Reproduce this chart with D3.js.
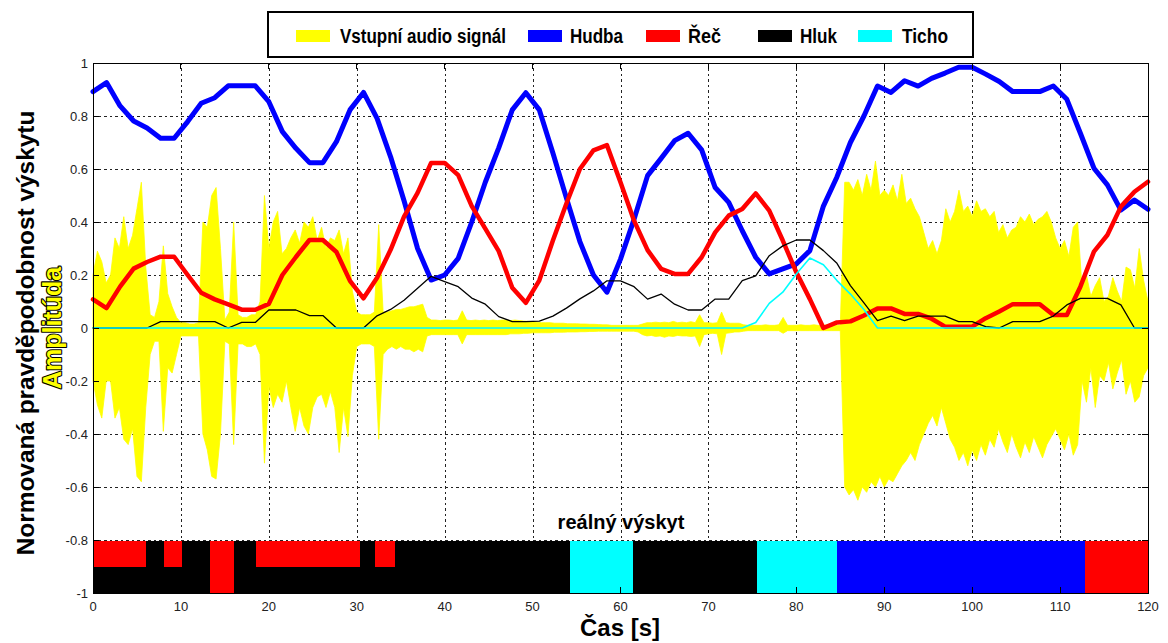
<!DOCTYPE html>
<html>
<head>
<meta charset="utf-8">
<script src="https://cdn.jsdelivr.net/npm/d3@7"></script>
<style>
  html, body { margin: 0; padding: 0; background: #fff; }
  svg { display: block; font-family: "Liberation Sans", Arial, sans-serif; }
</style>
</head>
<body>
<svg id="chart" width="1168" height="643"></svg>
<script>
// ---- classes ----
const classNames = ["Hudba", "Řeč", "Hluk", "Ticho"];
const classColors = { "Hudba": "#0000ff", "Řeč": "#ff0000", "Hluk": "#000000", "Ticho": "#00ffff" };
const audioLabel = "Vstupní audio signál";
const audioColor = "#ffff00";

// ---- axis ticks ----
const xTicks = [0, 10, 20, 30, 40, 50, 60, 70, 80, 90, 100, 110, 120];
const xTickLabels = ["0", "10", "20", "30", "40", "50", "60", "70", "80", "90", "100", "110", "120"];
const yTicks = [1, 0.8, 0.6, 0.4, 0.2, 0, -0.2, -0.4, -0.6, -0.8, -1];
const yTickLabels = ["1", "0.8", "0.6", "0.4", "0.2", "0", "-0.2", "-0.4", "-0.6", "-0.8", "-1"];

// ---- analysis frames (s) ----
const frameTimes = [
  0, 1.54, 3.08, 4.62, 6.15, 7.69, 9.23, 10.77, 12.31, 13.85,
  15.38, 16.92, 18.46, 20.00, 21.54, 23.08, 24.62, 26.15, 27.69, 29.23,
  30.77, 32.31, 33.85, 35.38, 36.92, 38.46, 40.00, 41.54, 43.08, 44.62,
  46.15, 47.69, 49.23, 50.77, 52.31, 53.85, 55.38, 56.92, 58.46, 60.00,
  61.54, 63.08, 64.62, 66.15, 67.69, 69.23, 70.77, 72.31, 73.85, 75.38,
  76.92, 78.46, 80.00, 81.54, 83.08, 84.62, 86.15, 87.69, 89.23, 90.77,
  92.31, 93.85, 95.38, 96.92, 98.46, 100.00, 101.54, 103.08, 104.62, 106.15,
  107.69, 109.23, 110.77, 112.31, 113.85, 115.38, 116.92, 118.46, 120.00
];

// ---- normalised class probabilities per frame ----
const hudba = [
  0.892, 0.926, 0.838, 0.781, 0.755, 0.716, 0.716, 0.779, 0.848, 0.869,
  0.914, 0.914, 0.914, 0.854, 0.741, 0.678, 0.624, 0.624, 0.703, 0.823,
  0.889, 0.791, 0.646, 0.48, 0.30, 0.181, 0.20, 0.263, 0.40, 0.55,
  0.68, 0.823, 0.888, 0.823, 0.66, 0.49, 0.326, 0.20, 0.135, 0.26,
  0.41, 0.575, 0.64, 0.707, 0.735, 0.672, 0.53, 0.474, 0.367, 0.267,
  0.204, 0.223, 0.242, 0.292, 0.46, 0.57, 0.70, 0.80, 0.913, 0.889,
  0.933, 0.913, 0.942, 0.962, 0.984, 0.984, 0.958, 0.93, 0.892, 0.892,
  0.892, 0.913, 0.863, 0.735, 0.603, 0.54, 0.445, 0.483, 0.448
];
const rec = [
  0.108, 0.075, 0.156, 0.224, 0.249, 0.269, 0.269, 0.20, 0.133, 0.108,
  0.089, 0.069, 0.069, 0.091, 0.20, 0.268, 0.332, 0.332, 0.287, 0.178,
  0.112, 0.19, 0.295, 0.42, 0.51, 0.623, 0.623, 0.577, 0.46, 0.375,
  0.29, 0.152, 0.095, 0.18, 0.33, 0.47, 0.60, 0.67, 0.69, 0.55,
  0.405, 0.294, 0.223, 0.204, 0.204, 0.267, 0.361, 0.424, 0.449, 0.508,
  0.443, 0.33, 0.21, 0.109, 0.0, 0.021, 0.025, 0.047, 0.074, 0.074,
  0.053, 0.053, 0.035, 0.005, 0.005, 0.005, 0.037, 0.062, 0.09, 0.09,
  0.09, 0.049, 0.049, 0.156, 0.288, 0.351, 0.458, 0.514, 0.552
];
const hluk = [
  0, 0, 0, 0, 0, 0.024, 0.024, 0.024, 0.024, 0.024,
  0, 0.021, 0.021, 0.068, 0.068, 0.068, 0.047, 0.047, 0, 0,
  0, 0.046, 0.07, 0.105, 0.15, 0.195, 0.175, 0.156, 0.113, 0.09,
  0.043, 0.024, 0.024, 0.026, 0.045, 0.075, 0.11, 0.14, 0.178, 0.178,
  0.156, 0.109, 0.128, 0.09, 0.068, 0.068, 0.109, 0.109, 0.179, 0.197,
  0.273, 0.31, 0.332, 0.332, 0.292, 0.244, 0.16, 0.095, 0.028, 0.045,
  0.028, 0.045, 0.045, 0.045, 0.024, 0.024, 0.005, 0, 0.024, 0.024,
  0.024, 0.045, 0.087, 0.112, 0.112, 0.112, 0.087, 0, 0
];
const ticho = [
  0, 0, 0, 0, 0, 0, 0, 0, 0, 0,
  0, 0, 0, 0, 0, 0, 0, 0, 0, 0,
  0, 0, 0, 0, 0, 0, 0, 0, 0, 0,
  0, 0, 0, 0, 0, 0, 0, 0, 0, 0,
  0, 0, 0, 0, 0, 0, 0, 0, 0, 0.021,
  0.093, 0.135, 0.204, 0.264, 0.239, 0.179, 0.128, 0.07, 0, 0,
  0, 0, 0, 0, 0, 0, 0, 0, 0, 0,
  0, 0, 0, 0, 0, 0, 0, 0, 0
];

// ---- input audio signal: peak envelope per 0.5 s ----
const audioStep = 0.5;
const audioMax = [
  0.20, 0.29, 0.25, 0.17, 0.20, 0.34, 0.30, 0.42, 0.30, 0.35,
  0.45, 0.55, 0.23, 0.05, 0.04, 0.10, 0.31, 0.13, 0.08, 0.04,
  0.02, 0.02, 0.015, 0.015, 0.02, 0.40, 0.38, 0.50, 0.53, 0.30,
  0.03, 0.06, 0.40, 0.05, 0.04, 0.04, 0.05, 0.05, 0.10, 0.50,
  0.30, 0.40, 0.44, 0.28, 0.30, 0.34, 0.37, 0.32, 0.40, 0.38,
  0.42, 0.33, 0.38, 0.30, 0.34, 0.33, 0.37, 0.28, 0.34, 0.14,
  0.06, 0.05, 0.05, 0.05, 0.06, 0.39, 0.06, 0.06, 0.065, 0.07,
  0.07, 0.075, 0.08, 0.08, 0.085, 0.09, 0.04, 0.03, 0.03, 0.028,
  0.03, 0.03, 0.028, 0.03, 0.065, 0.03, 0.028, 0.03, 0.028, 0.03,
  0.028, 0.03, 0.028, 0.03, 0.03, 0.028, 0.03, 0.028, 0.026, 0.025,
  0.024, 0.022, 0.02, 0.02, 0.02, 0.018, 0.018, 0.018, 0.016, 0.016,
  0.016, 0.015, 0.015, 0.014, 0.014, 0.013, 0.012, 0.012, 0.01, 0.01,
  0.01, 0.01, 0.01, 0.01, 0.01, 0.015, 0.02, 0.02, 0.022, 0.02,
  0.022, 0.02, 0.025, 0.02, 0.022, 0.02, 0.024, 0.02, 0.05, 0.02,
  0.02, 0.018, 0.02, 0.06, 0.02, 0.018, 0.018, 0.018, 0.012, 0.01,
  0.01, 0.01, 0.01, 0.012, 0.01, 0.01, 0.012, 0.04, 0.01, 0.01,
  0.01, 0.012, 0.01, 0.01, 0.012, 0.01, 0.01, 0.012, 0.01, 0.01,
  0.01, 0.55, 0.55, 0.52, 0.56, 0.50, 0.58, 0.52, 0.63, 0.50,
  0.52, 0.50, 0.54, 0.48, 0.58, 0.47, 0.49, 0.45, 0.42, 0.36,
  0.30, 0.33, 0.28, 0.33, 0.45, 0.40, 0.44, 0.52, 0.44, 0.46,
  0.42, 0.48, 0.44, 0.45, 0.42, 0.44, 0.36, 0.39, 0.34, 0.37,
  0.38, 0.42, 0.40, 0.43, 0.39, 0.41, 0.42, 0.44, 0.40, 0.34,
  0.30, 0.33, 0.27, 0.38, 0.40, 0.15, 0.20, 0.12, 0.16, 0.19,
  0.10, 0.12, 0.19, 0.14, 0.10, 0.23, 0.22, 0.15, 0.30, 0.18,
  0.10
];
const audioMin = [
  -0.20, -0.29, -0.34, -0.20, -0.20, -0.34, -0.30, -0.42, -0.44, -0.38,
  -0.56, -0.58, -0.30, -0.10, -0.05, -0.05, -0.39, -0.15, -0.17, -0.10,
  -0.03, -0.03, -0.03, -0.03, -0.03, -0.40, -0.46, -0.56, -0.57, -0.40,
  -0.05, -0.06, -0.44, -0.06, -0.06, -0.07, -0.07, -0.06, -0.10, -0.51,
  -0.22, -0.30, -0.25, -0.28, -0.20, -0.30, -0.39, -0.30, -0.37, -0.40,
  -0.30, -0.26, -0.25, -0.30, -0.24, -0.30, -0.47, -0.30, -0.41, -0.18,
  -0.07, -0.06, -0.06, -0.06, -0.07, -0.42, -0.10, -0.08, -0.07, -0.08,
  -0.07, -0.08, -0.08, -0.09, -0.08, -0.09, -0.03, -0.025, -0.025, -0.025,
  -0.025, -0.025, -0.025, -0.025, -0.06, -0.025, -0.025, -0.025, -0.025, -0.025,
  -0.025, -0.025, -0.025, -0.025, -0.025, -0.022, -0.022, -0.022, -0.02, -0.02,
  -0.018, -0.018, -0.018, -0.018, -0.018, -0.016, -0.016, -0.016, -0.015, -0.015,
  -0.015, -0.014, -0.014, -0.013, -0.013, -0.012, -0.012, -0.012, -0.012, -0.012,
  -0.012, -0.012, -0.012, -0.012, -0.015, -0.025, -0.03, -0.028, -0.032, -0.03,
  -0.035, -0.03, -0.032, -0.028, -0.03, -0.03, -0.032, -0.03, -0.07, -0.025,
  -0.022, -0.02, -0.022, -0.10, -0.02, -0.018, -0.015, -0.015, -0.012, -0.01,
  -0.01, -0.01, -0.01, -0.01, -0.01, -0.01, -0.01, -0.02, -0.01, -0.01,
  -0.01, -0.01, -0.01, -0.01, -0.01, -0.01, -0.01, -0.01, -0.01, -0.01,
  -0.01, -0.60, -0.63, -0.61, -0.65, -0.60, -0.62, -0.58, -0.60, -0.56,
  -0.60, -0.57, -0.58, -0.55, -0.52, -0.50, -0.47, -0.50, -0.44, -0.40,
  -0.36, -0.33, -0.37, -0.30, -0.36, -0.42, -0.45, -0.50, -0.47, -0.52,
  -0.46, -0.50, -0.44, -0.48, -0.42, -0.45, -0.38, -0.43, -0.47, -0.40,
  -0.45, -0.49, -0.43, -0.47, -0.41, -0.45, -0.49, -0.44, -0.41, -0.38,
  -0.42, -0.46, -0.40, -0.48, -0.44, -0.20, -0.28, -0.15, -0.30, -0.18,
  -0.20, -0.13, -0.23, -0.17, -0.12, -0.25, -0.20, -0.28, -0.26, -0.18,
  -0.15
];

// ---- ground truth segments (upper / lower half of the strip) ----
const segStart = [0, 6.0, 8.1, 10.1, 13.3, 16.0, 18.5, 30.4, 32.1, 34.3, 54.2, 61.4, 75.5, 84.6, 112.8];
const segEnd   = [6.0, 8.1, 10.1, 13.3, 16.0, 18.5, 30.4, 32.1, 34.3, 54.2, 61.4, 75.5, 84.6, 112.8, 120];
const segUpper = ["Řeč", "Hluk", "Řeč", "Hluk", "Řeč", "Hluk", "Řeč", "Hluk", "Řeč", "Hluk", "Ticho", "Hluk", "Ticho", "Hudba", "Řeč"];
const segLower = ["Hluk", "Hluk", "Hluk", "Hluk", "Řeč", "Hluk", "Hluk", "Hluk", "Hluk", "Hluk", "Ticho", "Hluk", "Ticho", "Hudba", "Řeč"];

// ---- scales ----
const svg = d3.select("#chart");
const x = d3.scaleLinear().domain([0, 120]).range([93, 1148]);
const y = d3.scaleLinear().domain([-1, 1]).range([593, 63]);
const plotW = x(120) - x(0), plotH = y(-1) - y(1);

// ---- dotted grid ----
const grid = svg.append("g").attr("class", "grid");
grid.append("g")
  .attr("transform", `translate(0,${y(-1)})`)
  .call(d3.axisBottom(x).tickValues(xTicks).tickSize(-plotH).tickFormat(""));
grid.append("g")
  .attr("transform", `translate(${x(0)},0)`)
  .call(d3.axisLeft(y).tickValues(yTicks).tickSize(-plotW).tickFormat(""));
grid.selectAll(".domain").remove();
grid.selectAll("line")
  .attr("stroke", "#222").attr("stroke-width", 1)
  .attr("stroke-dasharray", "2.5,3").attr("shape-rendering", "crispEdges");

// ---- audio waveform envelope ----
const audioArea = d3.area()
  .x((d, i) => x(i * audioStep))
  .y0((d, i) => y(audioMin[i]))
  .y1(d => y(d));
svg.append("path")
  .datum(audioMax)
  .attr("d", audioArea)
  .attr("fill", audioColor)
  .attr("stroke", audioColor)
  .attr("stroke-width", 0.8);

// ---- class probability curves ----
const seriesDefs = [
  { name: "Hudba", values: hudba, width: 5 },
  { name: "Řeč", values: rec, width: 4.5 },
  { name: "Hluk", values: hluk, width: 1.3 },
  { name: "Ticho", values: ticho, width: 1.6 }
];
const line = d3.line().x((d, i) => x(frameTimes[i])).y(d => y(d));
seriesDefs.forEach(s => {
  svg.append("path")
    .datum(s.values)
    .attr("d", line)
    .attr("fill", "none")
    .attr("stroke", classColors[s.name])
    .attr("stroke-width", s.width)
    .attr("stroke-linejoin", "round")
    .attr("stroke-linecap", "round");
});

// ---- ground truth strip ----
const strip = svg.append("g");
segStart.forEach((s, i) => {
  strip.append("rect")
    .attr("x", x(s)).attr("width", x(segEnd[i]) - x(s))
    .attr("y", y(-0.8) + 1).attr("height", y(-0.9) - y(-0.8) - 1)
    .attr("fill", classColors[segUpper[i]]).attr("shape-rendering", "crispEdges");
  strip.append("rect")
    .attr("x", x(s)).attr("width", x(segEnd[i]) - x(s))
    .attr("y", y(-0.9)).attr("height", y(-1) - y(-0.9))
    .attr("fill", classColors[segLower[i]]).attr("shape-rendering", "crispEdges");
});

svg.append("text")
  .attr("x", 621).attr("y", 529)
  .attr("text-anchor", "middle")
  .attr("font-weight", "bold").attr("font-size", 20)
  .text("reálný výskyt");

// ---- frame and inward ticks ----
svg.append("rect")
  .attr("x", x(0)).attr("y", y(1)).attr("width", plotW).attr("height", plotH)
  .attr("fill", "none").attr("stroke", "#000").attr("stroke-width", 1)
  .attr("shape-rendering", "crispEdges");
const tickLen = 6;
const ticks = svg.append("g").attr("stroke", "#000").attr("shape-rendering", "crispEdges");
yTicks.forEach(v => {
  ticks.append("line").attr("x1", x(0)).attr("x2", x(0) + tickLen).attr("y1", y(v)).attr("y2", y(v));
  ticks.append("line").attr("x1", x(120)).attr("x2", x(120) - tickLen).attr("y1", y(v)).attr("y2", y(v));
});
xTicks.forEach(v => {
  ticks.append("line").attr("x1", x(v)).attr("x2", x(v)).attr("y1", y(-1)).attr("y2", y(-1) - tickLen);
  ticks.append("line").attr("x1", x(v)).attr("x2", x(v)).attr("y1", y(1)).attr("y2", y(1) + tickLen);
});

// ---- tick labels ----
const tickFont = 13, tickColor = "#222";
svg.append("g").selectAll("text").data(yTicks).join("text")
  .attr("x", x(0) - 5).attr("y", d => y(d))
  .attr("dy", "0.35em").attr("text-anchor", "end")
  .attr("font-size", tickFont).attr("fill", tickColor)
  .text((d, i) => yTickLabels[i]);
svg.append("g").selectAll("text").data(xTicks).join("text")
  .attr("x", d => x(d)).attr("y", 611)
  .attr("text-anchor", "middle")
  .attr("font-size", tickFont).attr("fill", tickColor)
  .text((d, i) => xTickLabels[i]);

// ---- axis titles ----
svg.append("text")
  .attr("x", 620).attr("y", 636)
  .attr("text-anchor", "middle")
  .attr("font-weight", "bold").attr("font-size", 24)
  .text("Čas [s]");
svg.append("text")
  .attr("transform", "translate(34,333) rotate(-90)")
  .attr("text-anchor", "middle")
  .attr("font-weight", "bold").attr("font-size", 24.4)
  .text("Normovaná pravděpodobnost výskytu");
svg.append("text")
  .attr("transform", "translate(61,328) rotate(-90)")
  .attr("text-anchor", "middle")
  .attr("font-weight", "bold").attr("font-size", 25)
  .attr("fill", audioColor).attr("stroke", "#000").attr("stroke-width", 2.2)
  .attr("paint-order", "stroke").attr("stroke-linejoin", "round")
  .text("Amplitúda");

// ---- legend (condensed bold labels) ----
const legend = svg.append("g");
legend.append("rect")
  .attr("x", 268).attr("y", 12).attr("width", 705).attr("height", 45)
  .attr("fill", "#fff").attr("stroke", "#000").attr("stroke-width", 1.2)
  .attr("shape-rendering", "crispEdges");
const legendItems = [
  { label: audioLabel, color: audioColor, sx: 296, tx: 340, w: 166 },
  { label: "Hudba", color: classColors["Hudba"], sx: 528, tx: 570, w: 53 },
  { label: "Řeč", color: classColors["Řeč"], sx: 646, tx: 688, w: 33 },
  { label: "Hluk", color: classColors["Hluk"], sx: 758, tx: 800, w: 37 },
  { label: "Ticho", color: classColors["Ticho"], sx: 858, tx: 902, w: 46 }
];
legendItems.forEach(it => {
  legend.append("rect")
    .attr("x", it.sx).attr("y", 30).attr("width", 34).attr("height", 12)
    .attr("fill", it.color);
  legend.append("text")
    .attr("x", it.tx).attr("y", 43)
    .attr("font-weight", "bold").attr("font-size", 20)
    .attr("textLength", it.w).attr("lengthAdjust", "spacingAndGlyphs")
    .text(it.label);
});
</script>
</body>
</html>
